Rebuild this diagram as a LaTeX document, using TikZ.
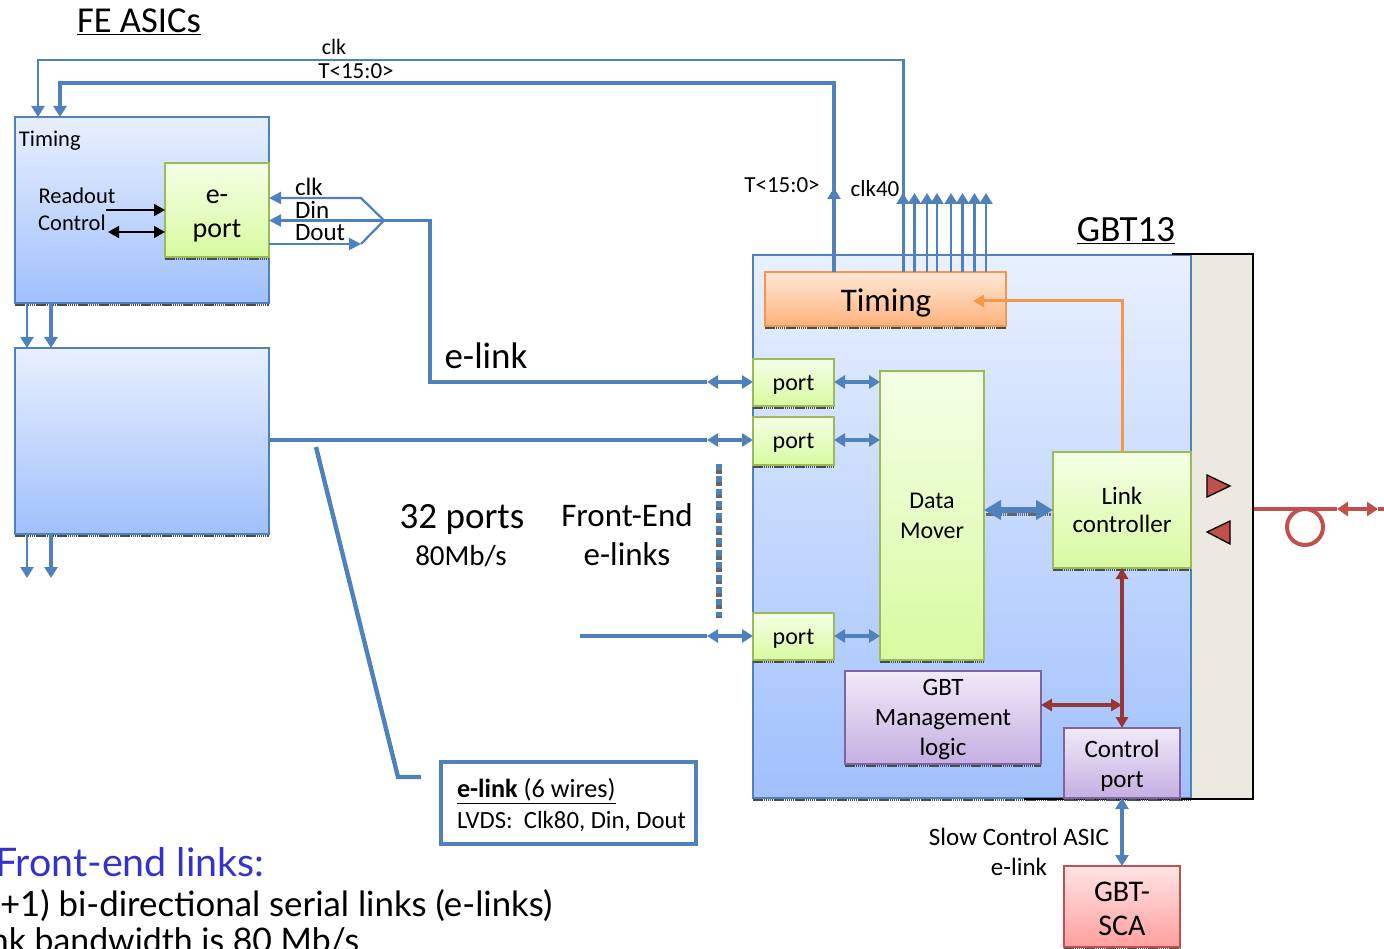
\documentclass[tikz,border=0pt]{standalone}
\usepackage{fontspec}
\setmainfont{Carlito}
\newfontfamily\comic{Lato}
\usetikzlibrary{arrows.meta,calc}
\newcommand\fs[2]{\fontsize{#1}{#2}\selectfont}
\definecolor{lblue}{HTML}{4F81BD}
\definecolor{dred}{HTML}{953735}
\definecolor{mred}{HTML}{C0504D}
\definecolor{orng}{HTML}{F79646}
\tikzset{
  x=1pt,y=-1pt,
  shline/.style={draw=black!70,line width=2pt,dash pattern=on 1.5pt off 0.6pt},
  boxbase/.style={rectangle,inner sep=0pt,outer sep=0pt,align=center,
    append after command={\pgfextra{\draw[shline] ([yshift=-1.6pt]\tikzlastnode.south west) -- ([yshift=-1.6pt]\tikzlastnode.south east);}}},
  asicbox/.style={boxbase,draw=lblue,line width=1.6pt,top color={rgb,255:red,232;green,240;blue,254},bottom color={rgb,255:red,160;green,192;blue,252}},
  greenbox/.style={boxbase,draw={rgb,255:red,155;green,187;blue,89},line width=1.6pt,top color={rgb,255:red,244;green,255;blue,230},bottom color={rgb,255:red,216;green,250;blue,160}},
  orangebox/.style={boxbase,draw=orng,line width=1.6pt,top color={rgb,255:red,255;green,232;blue,216},bottom color={rgb,255:red,255;green,178;blue,125}},
  purplebox/.style={boxbase,draw={rgb,255:red,128;green,100;blue,162},line width=1.6pt,top color={rgb,255:red,240;green,234;blue,248},bottom color={rgb,255:red,198;green,174;blue,226}},
  redbox/.style={boxbase,draw=mred,line width=1.6pt,top color={rgb,255:red,255;green,228;blue,228},bottom color={rgb,255:red,255;green,160;blue,158}},
  lab/.style={inner sep=0pt,outer sep=0pt,align=center,text=black},
  wire/.style={draw=lblue,line width=2.3pt},
  wireb/.style={draw=lblue,line width=3.4pt},
  uar/.style={wire,-{Triangle[length=11pt,width=13pt]}},
  ubar/.style={draw=lblue,line width=3.2pt,{Triangle[length=11pt,width=13pt]}-{Triangle[length=11pt,width=13pt]}},
  rbar/.style={draw=dred,line width=3.2pt,{Triangle[length=11pt,width=12pt]}-{Triangle[length=11pt,width=12pt]}},
  tri/.style={draw=black,line width=1.3pt,fill=mred,line join=miter},
}
\begin{document}
\begin{tikzpicture}
\useasboundingbox (0,0) rectangle (1384,949);
\clip (0,0) rectangle (1384,949);

% ---- boxes
\node[asicbox,minimum width=254pt,minimum height=186pt] (asicA) at (142,210) {};
\node[asicbox,minimum width=254pt,minimum height=186pt] (asicB) at (142,441) {};
\node[greenbox,minimum width=104pt,minimum height=94pt] (eport) at (217,210) {};

\fill[fill={rgb,255:red,236;green,233;blue,224}] (1191,254) rectangle (1253,799);
\coordinate (bt) at (1172,254);
\coordinate (btr) at (1253,254);
\coordinate (bbr) at (1253,799);
\coordinate (bb) at (1024,799);
\node[asicbox,minimum width=438pt,minimum height=543pt] (gbt) at (972,526.5) {};
\draw[black,line width=1.5pt] (bt) -- (btr) -- (bbr) -- (bb);

\node[orangebox,minimum width=241pt,minimum height=54pt] (tm) at (885.5,299) {};
\node[greenbox,minimum width=81pt,minimum height=47pt] (p1) at (793.5,382.5) {};
\node[greenbox,minimum width=81pt,minimum height=48pt] (p2) at (793.5,441) {};
\node[greenbox,minimum width=81pt,minimum height=47pt] (p3) at (793.5,636.5) {};
\node[greenbox,minimum width=104pt,minimum height=289pt,font=\fs{24}{30}] (dm) at (932,515.5) {Data\\Mover};
\node[greenbox,minimum width=138pt,minimum height=116pt,font=\fs{25}{28.5}] (lc) at (1122,510) {Link\\controller};
\node[purplebox,minimum width=196pt,minimum height=93pt] (mg) at (943,717.5) {};
\node[purplebox,minimum width=116pt,minimum height=70pt] (cp) at (1122,763) {};
\node[redbox,minimum width=116pt,minimum height=81pt] (sca) at (1122,906.5) {};

\node[lab,font=\fs{28}{34}] (teport) at ([yshift=-5.5pt]eport.center) {e-\\port};
\node[lab,font=\fs{33}{38}] (ttm) at (886,303) {Timing};
\node[lab,font=\fs{24}{28}] (tp1) at (793.5,385) {port};
\node[lab,font=\fs{24}{28}] (tp2) at (793.5,443) {port};
\node[lab,font=\fs{24}{28}] (tp3) at (793.5,639) {port};
\node[lab,font=\fs{25}{30}] (tmg) at (943,719.5) {GBT\\Management\\logic};
\node[lab,font=\fs{25}{30}] (tcp) at (1122,766) {Control\\port};
\node[lab,font=\fs{30}{34}] (tsca) at (1122,909) {GBT-\\SCA};

\node[draw=lblue,line width=4pt,minimum width=255pt,minimum height=82pt,inner sep=0pt,outer sep=0pt] (leg) at (568.5,803) {};

% ---- top bus lines
\coordinate (clkR) at (903.5,60);
\coordinate (clkL) at (38,60);
\coordinate (tR) at (834,83);
\coordinate (tL) at (60,83);
\draw[uar] (tm.north -| clkR) -- (clkR) -- (clkL) -- (clkL |- asicA.north);
\draw[wireb,-{Triangle[length=11pt,width=13pt]}] (tm.north -| tR) -- (tR) -- (tL) -- (tL |- asicA.north);
\coordinate (tUp) at (834,188);
\draw[draw=lblue,line width=3.4pt,-{Triangle[length=11pt,width=13pt]}] (tm.north -| tUp) -- (tUp);
\foreach \xx in {903,914.5,927,937,951,962.5,974.5,986}{
  \coordinate (cu) at (\xx,193);
  \draw[uar] (tm.north -| cu) -- (cu);
}

% ---- between the ASICs
\coordinate (a) at (27,0);
\coordinate (b) at (51,0);
\coordinate (ae) at (27,578);
\coordinate (be) at (51,578);
\draw[uar] (asicA.south -| a) -- (asicB.north -| a);
\draw[wireb,-{Triangle[length=11pt,width=13pt]}] (asicA.south -| b) -- (asicB.north -| b);
\draw[uar] (asicB.south -| a) -- (ae);
\draw[wireb,-{Triangle[length=11pt,width=13pt]}] (asicB.south -| b) -- (be);

% ---- e-port inner arrows
\coordinate (ro) at (106,210);
\coordinate (ct) at (108,232);
\draw[draw=black,line width=1.7pt,-{Triangle[length=11pt,width=12pt]}] (ro) -- (ro -| eport.west);
\draw[draw=black,line width=1.7pt,{Triangle[length=11pt,width=12pt]}-{Triangle[length=11pt,width=12pt]}] (ct) -- (ct -| eport.west);

% ---- fork
\coordinate (fk) at (384,220.5);
\coordinate (fu) at (361,198);
\coordinate (fd) at (361,244);
\coordinate (el1) at (430,220.5);
\coordinate (el2) at (430,382);
\coordinate (pa1) at (707,382);
\coordinate (pa2) at (707,440);
\coordinate (st3) at (580,636);
\coordinate (pa3) at (707,636);
\draw[wire,-{Triangle[length=12pt,width=12pt]}] (fk) -- (fu) -- (fu -| eport.east);
\draw[wire,-{Triangle[length=12pt,width=12pt]}] (fk) -- (fk -| eport.east);
\draw[wire,-{Triangle[length=12pt,width=12pt]}] (fd -| eport.east) -- (fd);
\draw[wire] (fd) -- (fk);
\draw[wireb] (fk) -- (el1) -- (el2) -- (pa1);
\draw[wireb] (asicB.east |- pa2) -- (pa2);
\draw[wireb] (st3) -- (pa3);
\draw[ubar] (pa1) -- (p1.west |- pa1);
\draw[ubar] (pa2) -- (p2.west |- pa2);
\draw[ubar] (pa3) -- (p3.west |- pa3);
\coordinate (d1) at (880,382);
\coordinate (d2) at (880,440);
\coordinate (d3) at (880,636);
\draw[ubar] (p1.east |- d1) -- (dm.west |- d1);
\draw[ubar] (p2.east |- d2) -- (dm.west |- d2);
\draw[ubar] (p3.east |- d3) -- (dm.west |- d3);

% ---- dotted column
\coordinate (dota) at (718.5,464);
\coordinate (dotb) at (718.5,616);
\draw[draw=black!60,line width=6pt,dash pattern=on 8pt off 4.3pt] ([yshift=-1.5pt]dota) -- ([yshift=-1.5pt]dotb);
\draw[draw=lblue,line width=6pt,dash pattern=on 6pt off 6.3pt] (dota) -- (dotb);

% ---- Data mover to Link controller
\coordinate (dl) at (1018,510);
\draw[draw=black!60,line width=3pt,dash pattern=on 1.5pt off 0.6pt] ([yshift=-4pt,xshift=2pt]dm.east |- dl) -- ([yshift=-4pt,xshift=-2pt]lc.west |- dl);
\draw[draw=lblue,line width=6pt,{Triangle[length=17pt,width=19pt]}-{Triangle[length=17pt,width=19pt]}] (dm.east |- dl) -- (lc.west |- dl);

% ---- orange
\coordinate (oc) at (1122,301);
\coordinate (oe) at (973,301);
\draw[draw=orng,line width=3pt,-{Triangle[length=11pt,width=12pt]}] (lc.north) -- (oc) -- (oe);

% ---- red control paths
\draw[rbar] (lc.south) -- (cp.north);
\coordinate (mj) at (1122,705);
\draw[rbar] (mg.east |- mj) -- (mj);
\draw[ubar] (cp.south) -- (sca.north);

% ---- legend leader
\coordinate (ll1) at (316,447);
\coordinate (ll2) at (398,777);
\coordinate (ll3) at (421,777);
\draw[draw=lblue,line width=4.4pt,miter limit=10] (ll1) -- (ll2) -- (ll3);

% ---- triangles and fibre
\draw[tri] (1207,475) -- (1230,486) -- (1207,497) -- cycle;
\draw[tri] (1230,521) -- (1207,532) -- (1230,544) -- cycle;
\coordinate (fb1) at (1254,509);
\coordinate (fb2) at (1337,509);
\coordinate (fb3) at (1378,509);
\coordinate (fb4) at (1384,509);
\node[draw=mred,line width=4pt,circle,minimum size=36pt,inner sep=0pt,outer sep=0pt] (loop) at (1305,527) {};
\draw[draw=mred,line width=4.5pt] (fb1) -- (fb2);
\draw[draw=mred,line width=4.5pt] (fb3) -- (fb4);
\draw[draw=mred,line width=4.5pt,{Triangle[length=11pt,width=14pt]}-{Triangle[length=11pt,width=14pt]}] (fb2) -- (fb3);

% ---- labels
\node[lab,font=\fs{36.5}{42}] (tFE) at (139,22) {\underline{FE ASICs}};
\node[lab,font=\fs{22}{26}] (tclk) at (334,47) {clk};
\node[lab,font=\fs{23}{26}] (tT) at (356,71) {T<15:0>};
\node[lab,anchor=west,font=\fs{22.5}{26}] (tTim) at (19,141) {Timing};
\node[lab,font=\fs{22.5}{26}] (tRo) at (77,196) {Readout};
\node[lab,font=\fs{22.5}{26}] (tCo) at (72,223) {Control};
\node[lab,anchor=west,font=\fs{25}{28}] (tc) at (295,187) {clk};
\node[lab,anchor=west,font=\fs{25}{28}] (td) at (295,210) {Din};
\node[lab,anchor=west,font=\fs{25}{28}] (tdo) at (295,233) {Dout};
\node[lab,font=\fs{37}{42}] (tel) at (486,356) {e-link};
\node[lab,font=\fs{23}{26}] (tT2) at (782,185) {T<15:0>};
\node[lab,font=\fs{23}{26}] (tc40) at (875,189) {clk40};
\node[lab,font=\fs{37}{42}] (tG) at (1126,231) {\underline{GBT13}};
\node[lab,font=\fs{37}{42}] (t32) at (462,519) {32 ports};
\node[lab,font=\fs{29}{32}] (t80) at (461,556) {80Mb/s};
\node[lab,font=\fs{33}{39}] (tfe) at (627,534.5) {Front-End\\e-links};
\node[lab,font=\fs{25}{30}] (tsl) at (1019,852) {Slow Control ASIC\\e-link};
\node[lab,anchor=west,font=\fs{26.2}{30}] (tl1) at (457,791) {\underline{\textbf{e-link} (6 wires)}};
\node[lab,anchor=west,font=\fs{24.7}{28}] (tl2) at (457,821) {LVDS:\ \ Clk80, Din, Dout};
\node[lab,anchor=west,text={rgb,255:red,51;green,51;blue,204},font=\comic\fs{39.4}{44}] (tb1) at (-5,862) {Front-end links:};
\node[lab,anchor=west,font=\comic\fs{34.8}{40}] (tb2) at (0,906) {+1) bi-directional serial links (e-links)};
\node[lab,anchor=west,font=\comic\fs{33.8}{40}] (tb3) at (-10,941) {nk bandwidth is 80 Mb/s};
\end{tikzpicture}
\end{document}
